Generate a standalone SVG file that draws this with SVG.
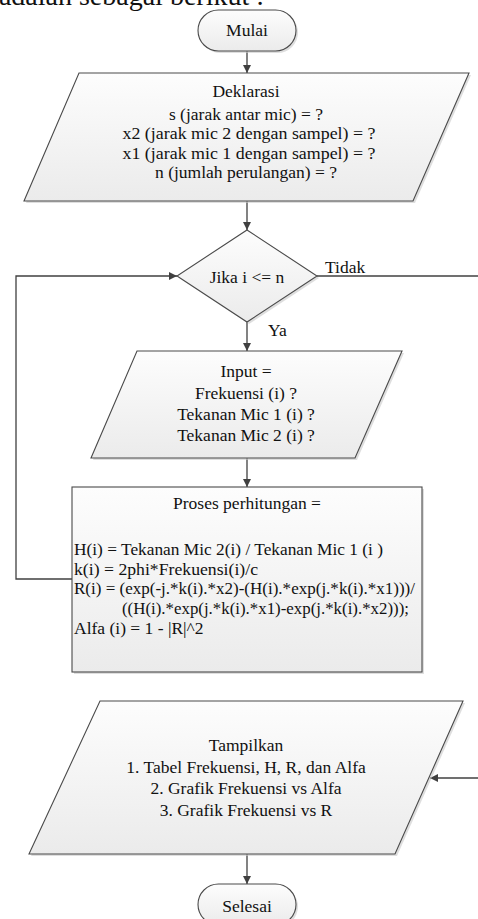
<svg xmlns="http://www.w3.org/2000/svg" width="478" height="919" viewBox="0 0 478 919">
<style>
.sh{fill:#c8c8c8;opacity:0.6;stroke:none}
.shape{fill:url(#g);stroke:#4a4a4a;stroke-width:1.1}
.t{font-family:"Liberation Serif","Times New Roman",serif;font-size:17.5px;fill:#111}
.c{text-anchor:middle}
.conn{fill:none;stroke:#404040;stroke-width:1.3}
</style>
<defs>
<linearGradient id="g" x1="0" y1="0" x2="0" y2="1">
<stop offset="0" stop-color="#fdfdfd"/>
<stop offset="1" stop-color="#ebebeb"/>
</linearGradient>
<marker id="ah" viewBox="0 0 10 10" refX="10" refY="5" markerWidth="8" markerHeight="8" markerUnits="userSpaceOnUse" orient="auto">
<path d="M0,0 L10,5 L0,10 z" fill="#404040"/>
</marker>
</defs>
<rect width="478" height="919" fill="#ffffff"/>
<text x="264" y="5" text-anchor="end" style="font-family:'Liberation Serif',serif;font-size:28px;fill:#111">adalah sebagai berikut :</text>

<g id="connectors">
<line class="conn" x1="247" y1="51" x2="247" y2="73" marker-end="url(#ah)"/>
<line class="conn" x1="247" y1="201" x2="247" y2="230" marker-end="url(#ah)"/>
<line class="conn" x1="247" y1="322" x2="247" y2="351" marker-end="url(#ah)"/>
<line class="conn" x1="247" y1="458" x2="247" y2="487" marker-end="url(#ah)"/>
<line class="conn" x1="247" y1="854" x2="247" y2="884" marker-end="url(#ah)"/>
<polyline class="conn" points="72,579 16,579 16,276 177,276" marker-end="url(#ah)"/>
<line class="conn" x1="317" y1="276" x2="478" y2="276"/>
<line class="conn" x1="478" y1="778" x2="430" y2="778" marker-end="url(#ah)"/>
<text class="t" x="325" y="273">Tidak</text>
<text class="t" x="268" y="336">Ya</text>
</g>

<g id="mulai">
<rect class="sh" x="200" y="12" width="98" height="41" rx="20.5"/>
<rect class="shape" x="198" y="10" width="98" height="41" rx="20.5"/>
<text class="t c" x="247" y="36">Mulai</text>
</g>

<g id="deklarasi">
<polygon class="sh" points="81,75 471,75 415,203 26,203"/>
<polygon class="shape" points="79,73 469,73 413,201 24,201"/>
<text class="t c" x="246" y="97">Deklarasi</text>
<text class="t c" x="246" y="120">s  (jarak antar mic) = ?</text>
<text class="t c" x="249" y="139" textLength="253" lengthAdjust="spacingAndGlyphs">x2 (jarak mic 2 dengan sampel) = ?</text>
<text class="t c" x="249" y="159" textLength="253" lengthAdjust="spacingAndGlyphs">x1 (jarak mic 1 dengan sampel) = ?</text>
<text class="t c" x="246" y="178">n (jumlah perulangan) = ?</text>
</g>

<g id="keputusan">
<polygon class="sh" points="249,232 319,278 249,324 179,278"/>
<polygon class="shape" points="247,230 317,276 247,322 177,276"/>
<text class="t c" x="247" y="283">Jika i &lt;= n</text>
</g>

<g id="input">
<polygon class="sh" points="139,353 404,353 357,460 93,460"/>
<polygon class="shape" points="137,351 402,351 355,458 91,458"/>
<text class="t c" x="246" y="377">Input =</text>
<text class="t c" x="246" y="399">Frekuensi (i) ?</text>
<text class="t c" x="246" y="420">Tekanan Mic 1 (i) ?</text>
<text class="t c" x="246" y="441">Tekanan Mic 2 (i) ?</text>
</g>

<g id="proses">
<rect class="sh" x="74" y="489" width="350" height="185"/>
<rect class="shape" x="72" y="487" width="350" height="185"/>
<text class="t c" x="247" y="509">Proses perhitungan =</text>
<text class="t" x="74" y="555" textLength="309" lengthAdjust="spacingAndGlyphs">H(i) = Tekanan Mic 2(i) / Tekanan Mic 1 (i )</text>
<text class="t" x="74" y="575" textLength="184" lengthAdjust="spacingAndGlyphs">k(i) = 2phi*Frekuensi(i)/c</text>
<text class="t" x="74" y="594" textLength="341" lengthAdjust="spacingAndGlyphs">R(i) = (exp(-j.*k(i).*x2)-(H(i).*exp(j.*k(i).*x1)))/</text>
<text class="t" x="122" y="614" textLength="287" lengthAdjust="spacingAndGlyphs">((H(i).*exp(j.*k(i).*x1)-exp(j.*k(i).*x2)));</text>
<text class="t" x="74" y="634">Alfa (i) = 1 - |R|^2</text>
</g>

<g id="tampilkan">
<polygon class="sh" points="102,703 465,703 397,856 31,856"/>
<polygon class="shape" points="100,701 463,701 395,854 29,854"/>
<text class="t c" x="246" y="751">Tampilkan</text>
<text class="t c" x="246" y="773">1. Tabel Frekuensi, H, R, dan Alfa</text>
<text class="t c" x="246" y="794">2. Grafik Frekuensi vs Alfa</text>
<text class="t c" x="246" y="816">3. Grafik Frekuensi vs R</text>
</g>

<g id="selesai">
<rect class="sh" x="200" y="886" width="98" height="41" rx="20.5"/>
<rect class="shape" x="198" y="884" width="98" height="41" rx="20.5"/>
<text class="t c" x="247" y="912">Selesai</text>
</g>
</svg>
